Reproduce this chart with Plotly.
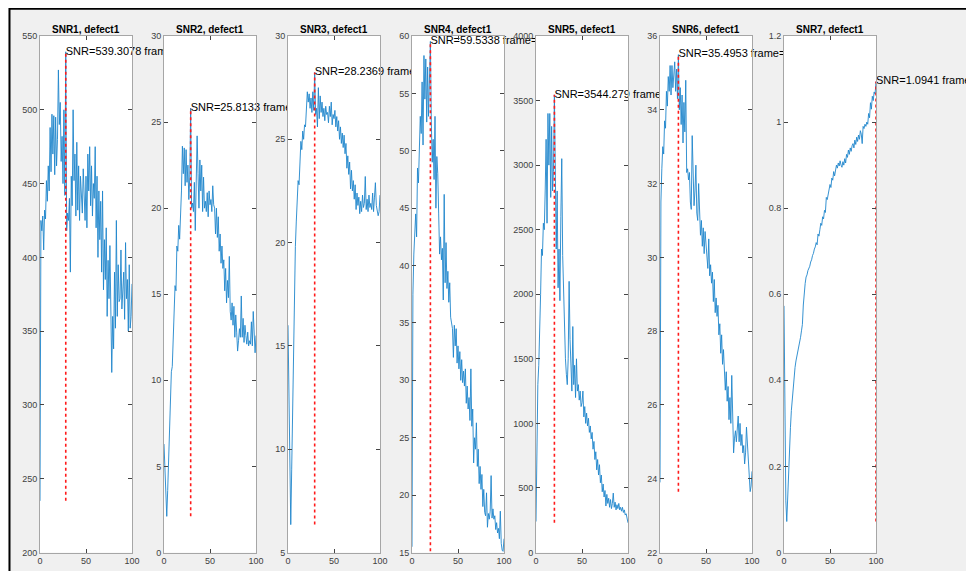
import numpy as np
import plotly.graph_objects as go

W, H = 974, 571
OFF = 8  # the page body adds an 8px margin around the figure; shift the design by it

frames = list(range(0, 101))
titles = ["SNR1, defect1", "SNR2, defect1", "SNR3, defect1", "SNR4, defect1",
          "SNR5, defect1", "SNR6, defect1", "SNR7, defect1"]

snr1 = [235, 425, 418, 428, 405, 432, 426, 452, 438, 462,
        445, 488, 458, 497, 470, 496, 456, 495, 462, 480,
        527, 490, 505, 465, 482, 450, 500, 442, 539.3078, 418,
        430, 425, 440, 390, 455, 435, 500, 452, 470, 428,
        478, 432, 462, 425, 455, 445, 430, 460, 438, 425,
        455, 420, 470, 445, 475, 435, 462, 428, 450, 440,
        475, 420, 455, 400, 445, 412, 438, 390, 445, 378,
        412, 385, 420, 360, 398, 372, 408, 345, 322, 360,
        338, 390, 352, 425, 360, 395, 370, 372, 405, 365,
        375, 390, 358, 410, 372, 385, 350, 395, 352, 360,
        382]

snr2 = [6.3, 5.0, 3.5, 2.1, 3.6, 5.5, 7.5, 9.0, 10.5, 10.8,
        12.5, 13.5, 15.5, 15.2, 17.8, 17.5, 19.0, 18.2, 19.5, 21.0,
        23.6, 22.0, 23.5, 21.3, 23.4, 21.5, 22.5, 20.5, 21.8, 25.8133,
        20.0, 20.3, 19.8, 21.5, 18.7, 21.0, 24.2, 22.0, 20.0, 22.8,
        21.0, 22.5, 19.8, 21.8, 20.0, 20.4, 19.8, 20.9, 19.5, 21.0,
        20.2, 20.5, 19.8, 21.3, 20.2, 20.0, 18.5, 20.0, 18.3, 19.5,
        17.5, 18.5, 16.8, 17.8, 16.5, 17.0, 15.2, 16.5, 14.5, 15.8,
        14.8, 17.2, 14.0, 13.5, 14.5, 13.2, 14.3, 12.5, 13.8, 12.8,
        11.7, 12.3, 13.0, 12.5, 14.9, 12.5, 13.6, 12.2, 13.2, 12.6,
        12.1, 12.8, 12.0, 12.3, 12.1, 13.4, 12.0, 14.0, 12.4, 11.6,
        12.6]

snr3 = [16.0, 13.0, 9.5, 6.35, 9.0, 12.0, 15.5, 17.5, 19.8, 21.0,
        22.3, 23.0, 22.8, 23.8, 24.9, 24.5, 25.4, 25.0, 25.7, 25.6,
        26.5, 27.3, 26.8, 27.2, 26.5, 27.0, 26.3, 27.3, 26.4, 28.2369,
        26.2, 26.5, 25.6, 27.5, 26.0, 27.1, 26.3, 26.8, 26.1, 26.5,
        25.9, 26.6, 26.2, 26.3, 25.8, 26.6, 26.1, 26.8, 25.7, 26.2,
        26.0, 26.4, 25.6, 26.1, 25.4, 25.9, 25.0, 25.6, 24.8, 25.3,
        24.6, 25.2, 24.3, 24.8, 23.6, 24.2, 23.3, 23.9, 22.6, 23.5,
        22.5, 23.0, 22.1, 22.8, 21.6, 22.4, 21.8, 22.2, 21.4, 22.0,
        21.5, 22.3, 21.7, 21.9, 23.2, 21.6, 22.1, 21.5, 22.3, 21.7,
        21.9, 21.6, 22.4, 21.5, 22.2, 22.9, 21.8, 21.6, 21.3, 21.5,
        22.3]

snr4 = [15.5, 37.5, 41.0, 43.5, 44.5, 42.5, 48.5, 47.2, 50.5, 53.0,
        51.5, 56.0, 50.5, 58.3, 54.5, 58.0, 52.5, 57.3, 53.0, 55.5,
        59.5338, 52.5, 49.0, 51.0, 47.5, 53.0, 45.0, 49.5, 48.0, 44.5,
        41.0, 42.5, 40.5, 41.5, 37.0, 46.2, 38.5, 42.0, 38.0, 39.5,
        36.8, 38.5, 35.5, 35.0, 34.5, 32.0, 34.8, 33.0, 34.5, 31.5,
        33.0, 31.0, 32.5, 30.0, 31.8, 29.8, 30.8, 29.5, 31.0, 28.0,
        29.5, 27.5, 28.5, 26.5, 31.0, 26.0, 27.5, 22.8, 25.0, 24.0,
        26.3, 22.5, 24.0, 21.0, 22.5, 20.5, 21.8, 19.0, 20.5, 18.5,
        18.2, 20.2, 17.2, 18.4, 17.9, 18.6, 21.7, 18.0, 18.8, 17.9,
        18.2, 17.0, 17.6, 16.7, 17.1, 16.2, 18.6, 15.8, 15.2, 15.1,
        16.2]

snr5 = [240, 1000, 1300, 1450, 1900, 2000, 2350, 2300, 2550, 2500,
        2800, 3200, 2550, 3400, 3000, 3400, 2750, 3300, 2800, 2950,
        3544.279, 2550, 2350, 2800, 2050, 2350, 1950, 2600, 3050, 2300,
        1950, 1750, 1500, 1380, 1300, 1500, 2100, 1650, 1350, 1250,
        1750, 1300, 1450, 1200, 1500, 1250, 1300, 1180, 1250, 1130,
        1160, 1250, 1050, 1130, 1000, 1080, 980, 1040, 930, 980,
        880, 930, 800, 860, 720, 780, 640, 720, 600, 680,
        540, 600, 470, 530, 430, 480, 360, 450, 380, 420,
        350, 410, 340, 380, 460, 350, 390, 330, 370, 340,
        380, 330, 350, 320, 350, 310, 330, 290, 300, 250,
        230]

snr6 = [23.9, 31.5, 32.4, 33.0, 32.8, 33.7, 33.5, 34.5, 34.1, 34.9,
        34.5, 35.2, 34.4, 35.2, 34.6, 34.9, 35.3, 34.5, 35.1, 34.3,
        35.4953, 34.0, 34.6, 33.6, 34.4, 33.1, 34.2, 33.4, 34.8, 32.3,
        32.4, 32.1, 32.3, 31.5, 31.3, 33.3, 32.0, 31.4, 31.8, 32.5,
        31.2, 31.0, 32.0, 30.9, 30.6, 31.0, 30.3, 30.8, 30.1, 30.7,
        30.4, 30.2, 29.7, 30.5, 29.5, 29.8, 29.3, 29.6, 28.8, 29.4,
        28.5, 28.9, 28.4, 28.7, 27.9, 28.2, 27.4, 27.9, 27.1, 27.5,
        26.8, 26.4, 26.9, 26.1, 26.5, 25.6, 26.2, 25.5, 26.8, 25.8,
        24.7, 25.1, 25.3, 25.0, 25.4, 25.7, 25.0, 25.5, 24.9, 25.2,
        24.7, 24.9, 24.4, 24.7, 25.4, 24.9, 24.3, 24.0, 23.65, 23.8,
        24.2]

snr7 = [0.573, 0.30, 0.12, 0.072, 0.14, 0.20, 0.24, 0.29, 0.33, 0.36,
        0.39, 0.41, 0.43, 0.445, 0.455, 0.465, 0.475, 0.49, 0.50, 0.515,
        0.53, 0.575, 0.615, 0.625, 0.64, 0.645, 0.655, 0.66, 0.665, 0.675,
        0.68, 0.69, 0.695, 0.705, 0.71, 0.72, 0.715, 0.74, 0.735, 0.75,
        0.765, 0.76, 0.78, 0.775, 0.795, 0.79, 0.825, 0.82, 0.835, 0.85,
        0.855, 0.848, 0.87, 0.865, 0.885, 0.875, 0.89, 0.9, 0.893, 0.905,
        0.898, 0.91, 0.9, 0.895, 0.908, 0.9, 0.915, 0.905, 0.925, 0.918,
        0.935, 0.925, 0.94, 0.932, 0.945, 0.95, 0.94, 0.958, 0.948, 0.965,
        0.955, 0.97, 0.96, 0.98, 0.972, 0.95, 0.99, 0.985, 0.995, 0.99,
        1.0, 0.995, 1.02, 1.01, 1.045, 1.03, 1.06, 1.05, 1.07, 1.065,
        1.0941]

series = [snr1, snr2, snr3, snr4, snr5, snr6, snr7]
y_ranges = [(200, 550), (0, 30), (5, 30), (15, 60), (0, 4000), (22, 36), (0, 1.2)]
y_dticks = [50, 5, 5, 5, 500, 2, 0.2]
x_range = (0, 100)
x_ticks = [0, 50, 100]

FONT = "Liberation Sans, Arial, Helvetica, sans-serif"
LINE_BLUE = "#1f86cc"

# layout geometry (window pixels of the reference)
AX_LEFT0, AX_STEP, AX_W = 40, 124, 92
AX_TOP, AX_BOT = 36, 552.5


def px_x(x):
    return (x - OFF) / W


def px_y(y):
    return 1 - (y - OFF) / H


def fmt(v):
    sig = int(np.floor(np.log10(abs(v)))) + 5
    return f"{v:.{sig}g}"


fig = go.Figure()
layout_axes = {}
annotations = []

for i, ys in enumerate(series):
    n = i + 1
    xa = "x" if n == 1 else f"x{n}"
    ya = "y" if n == 1 else f"y{n}"
    lo, hi = y_ranges[i]
    x0p = px_x(AX_LEFT0 + AX_STEP * i)
    x1p = px_x(AX_LEFT0 + AX_STEP * i + AX_W)

    # opaque white axes background (hides text from neighbouring axes, like MATLAB)
    fig.add_trace(go.Scatter(
        x=[x_range[0], x_range[1], x_range[1], x_range[0], x_range[0]],
        y=[lo, lo, hi, hi, lo], fill="toself", fillcolor="white",
        mode="lines", line=dict(width=0), hoverinfo="skip", showlegend=False,
        xaxis=xa, yaxis=ya))

    fig.add_trace(go.Scatter(
        x=frames, y=ys, mode="lines", line=dict(color=LINE_BLUE, width=0.9),
        showlegend=False, xaxis=xa, yaxis=ya))

    k = int(np.argmax(ys))
    peak = ys[k]
    low = min(ys)
    fig.add_trace(go.Scatter(
        x=[frames[k], frames[k]], y=[low, peak], mode="lines",
        line=dict(color="#ff1a1a", width=1.6, dash="dot"),
        showlegend=False, xaxis=xa, yaxis=ya))

    fig.add_trace(go.Scatter(
        x=[frames[k]], y=[peak], mode="text",
        text=[f"SNR={fmt(peak)} frame={frames[k]}"],
        textposition="middle right", cliponaxis=False,
        textfont=dict(family=FONT, size=11, color="#000000"),
        showlegend=False, xaxis=xa, yaxis=ya))

    axis_common = dict(showgrid=False, zeroline=False, showline=True,
                       linecolor="#a6a6a6", linewidth=1, mirror="ticks",
                       ticks="inside", ticklen=4, tickcolor="#444444",
                       tickfont=dict(family=FONT, size=9, color="#404040"),
                       fixedrange=True, automargin=False)
    layout_axes["xaxis" if n == 1 else f"xaxis{n}"] = dict(
        domain=[x0p, x1p], range=list(x_range), anchor=ya,
        tickmode="array", tickvals=x_ticks, **axis_common)
    layout_axes["yaxis" if n == 1 else f"yaxis{n}"] = dict(
        domain=[px_y(AX_BOT), px_y(AX_TOP)], range=[lo, hi], anchor=xa,
        tick0=lo, dtick=y_dticks[i], **axis_common)

    annotations.append(dict(
        text=f"<b>{titles[i]}</b>", x=(x0p + x1p) / 2, y=px_y(29),
        xref="paper", yref="paper", xanchor="center", yanchor="middle",
        showarrow=False, font=dict(family=FONT, size=10, color="#000000")))

# figure window border (black top and left edges)
shapes = [
    dict(type="line", xref="paper", yref="paper", x0=px_x(9), x1=1, y0=1 - 0.8 / H, y1=1 - 0.8 / H,
         line=dict(color="#000000", width=2), layer="above"),
    dict(type="line", xref="paper", yref="paper", x0=px_x(9.5), x1=px_x(9.5), y0=0, y1=1,
         line=dict(color="#000000", width=2), layer="above"),
]

fig.update_layout(
    template="none",
    width=W, height=H, margin=dict(l=0, r=0, t=0, b=0, pad=0, autoexpand=False),
    paper_bgcolor="#f0f0f0", plot_bgcolor="white",
    showlegend=False, annotations=annotations, shapes=shapes,
    font=dict(family=FONT),
    **layout_axes)

fig.write_html("out.html", config={"displayModeBar": False})
